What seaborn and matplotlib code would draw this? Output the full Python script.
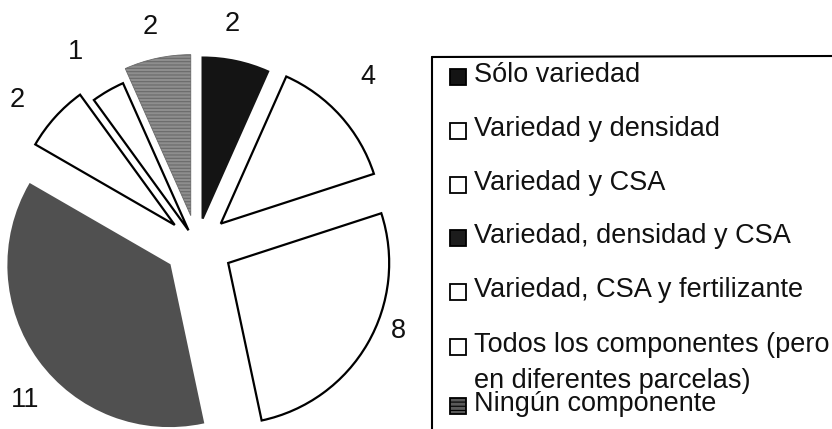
import matplotlib
matplotlib.use("Agg")
import matplotlib.pyplot as plt
import seaborn as sns
import numpy as np
from matplotlib.patches import Rectangle
from matplotlib.lines import Line2D

# ---- data ----
categories = [
    "Sólo variedad",
    "Variedad y densidad",
    "Variedad y CSA",
    "Variedad, densidad y CSA",
    "Variedad, CSA y fertilizante",
    "Todos los componentes (pero\nen diferentes parcelas)",
    "Ningún componente",
]
values = [2, 4, 8, 11, 2, 1, 2]

# ---- styles / layout ----
face_colors = ["#141414", "white", "white", "#505050", "white", "white", "#8e8e8e"]
edge_colors = ["#141414", "black", "black", "#505050", "black", "black", "#6a6a6a"]
hatches = [None, None, None, None, None, None, "-----"]
legend_colors = ["#141414", "white", "white", "#1c1c1c", "white", "white", "#5a5a5a"]
explode = [27, 32, 36, 34, 30, 17, 30]            # pixels
label_angle_shift = [3, 2.5, 7, 6, 3, 2.3, 0]     # degrees (clockwise-lag of value labels)
label_radius = [224, 240, 219, 231, 231, 228, 223]  # pixels from pie centre

sns.set_theme(style="white")
plt.rcParams["font.family"] = ["Liberation Sans", "DejaVu Sans"]
plt.rcParams["hatch.linewidth"] = 0.8

W, H = 832, 429
FS = 19.5
fig = plt.figure(figsize=(W / 100, H / 100), dpi=100)
ax = fig.add_axes([0, 0, 1, 1])

R = 161
cx, cy = 197, H - 245
wedges, _ = ax.pie(values, radius=R, center=(cx, cy), explode=explode,
                   startangle=90, counterclock=False,
                   wedgeprops=dict(linewidth=1.6))
for w, fc, ec, h in zip(wedges, face_colors, edge_colors, hatches):
    w.set_facecolor(fc)
    w.set_edgecolor(ec)
    if h:
        w.set_hatch(h)
        w.set_linewidth(0.6)

# value labels outside each wedge
for w, v, da, rl in zip(wedges, values, label_angle_shift, label_radius):
    mid = np.deg2rad(0.5 * (w.theta1 + w.theta2) + da)
    ax.text(cx + rl * np.cos(mid), cy + rl * np.sin(mid), str(v),
            ha="center", va="center", fontsize=FS, color="#111111")

ax.set_xlim(0, W)
ax.set_ylim(0, H)
ax.set_aspect("equal")
ax.axis("off")

# legend frame (left and top borders only, as in the reference)
ax.add_line(Line2D([432, 432], [H - 57, 0], color="black", lw=1.5))
ax.add_line(Line2D([432, W], [H - 57, H - 56], color="black", lw=1.5))

row_cap_centers = [72, 126.5, 180, 233.5, 287, 342.5, 401.5]  # image y (layout)
line_gap = 35.5
cap = 0.716 * FS * 100 / 72
for lab, col, yc, h in zip(categories, legend_colors, row_cap_centers, hatches):
    base = yc + cap / 2
    ax.add_patch(Rectangle((450, H - base - 3), 16, 16, facecolor=col,
                           edgecolor="black", lw=1.3,
                           hatch=("----" if h else None)))
    for k, line in enumerate(lab.split("\n")):
        ax.text(474, H - base - k * line_gap, line, ha="left", va="baseline",
                fontsize=FS, color="#111111")

fig.savefig("out.png", dpi=100)
